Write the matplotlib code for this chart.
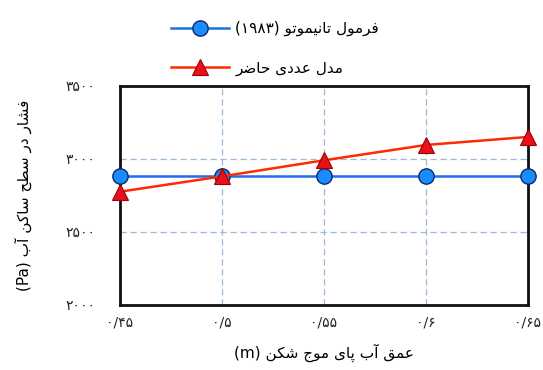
import matplotlib
matplotlib.use("Agg")
import matplotlib.pyplot as plt
from matplotlib.ticker import FixedLocator

# ---------------- data ----------------
depth = [0.45, 0.50, 0.55, 0.60, 0.65]
tanimoto = [2885, 2885, 2885, 2885, 2885]
numerical = [2775, 2880, 2990, 3095, 3150]
x_tick_labels = ["۰/۴۵", "۰/۵", "۰/۵۵", "۰/۶", "۰/۶۵"]
y_ticks = [2000, 2500, 3000, 3500]
y_tick_labels = ["۲۰۰۰", "۲۵۰۰", "۳۰۰۰", "۳۵۰۰"]
label_tanimoto = "فرمول تانیموتو (۱۹۸۳)"
label_numerical = "مدل عددی حاضر"
x_label = "عمق آب پای موج شکن (m)"
y_label = "فشار در سطح ساکن آب (Pa)"

# ------------- minimal Persian shaping + visual ordering -------------
FORMS = {  # iso, fin, ini, med  (None -> right-joining only)
    'ا': ('\uFE8D', '\uFE8E', None, None),
    'آ': ('\uFE81', '\uFE82', None, None),
    'ب': ('\uFE8F', '\uFE90', '\uFE91', '\uFE92'),
    'پ': ('\uFB56', '\uFB57', '\uFB58', '\uFB59'),
    'ت': ('\uFE95', '\uFE96', '\uFE97', '\uFE98'),
    'ج': ('\uFE9D', '\uFE9E', '\uFE9F', '\uFEA0'),
    'ح': ('\uFEA1', '\uFEA2', '\uFEA3', '\uFEA4'),
    'د': ('\uFEA9', '\uFEAA', None, None),
    'ر': ('\uFEAD', '\uFEAE', None, None),
    'س': ('\uFEB1', '\uFEB2', '\uFEB3', '\uFEB4'),
    'ش': ('\uFEB5', '\uFEB6', '\uFEB7', '\uFEB8'),
    'ض': ('\uFEBD', '\uFEBE', '\uFEBF', '\uFEC0'),
    'ط': ('\uFEC1', '\uFEC2', '\uFEC3', '\uFEC4'),
    'ع': ('\uFEC9', '\uFECA', '\uFECB', '\uFECC'),
    'ف': ('\uFED1', '\uFED2', '\uFED3', '\uFED4'),
    'ق': ('\uFED5', '\uFED6', '\uFED7', '\uFED8'),
    'ک': ('\uFB8E', '\uFB8F', '\uFB90', '\uFB91'),
    'ل': ('\uFEDD', '\uFEDE', '\uFEDF', '\uFEE0'),
    'م': ('\uFEE1', '\uFEE2', '\uFEE3', '\uFEE4'),
    'ن': ('\uFEE5', '\uFEE6', '\uFEE7', '\uFEE8'),
    'و': ('\uFEED', '\uFEEE', None, None),
    'ی': ('\uFBFC', '\uFBFD', '\uFBFE', '\uFBFF'),
}


def shape(text):
    out = []
    n = len(text)
    for i, ch in enumerate(text):
        if ch not in FORMS:
            out.append(ch)
            continue
        iso, fin, ini, med = FORMS[ch]
        prev = text[i - 1] if i > 0 else None
        nxt = text[i + 1] if i + 1 < n else None
        join_prev = prev in FORMS and FORMS[prev][2] is not None
        join_next = nxt in FORMS and ini is not None
        if join_prev and join_next:
            out.append(med)
        elif join_prev:
            out.append(fin)
        elif join_next:
            out.append(ini)
        else:
            out.append(iso)
    return ''.join(out)


def is_ltr(ch):
    return ch.isascii() and ch.isalnum() or ('\u06F0' <= ch <= '\u06F9') or ch == '/'


def visual(text):
    s = shape(text)[::-1]
    res, run = [], []
    for ch in s:
        if is_ltr(ch):
            run.append(ch)
        else:
            if run:
                res.append(''.join(run[::-1]))
                run = []
            res.append({'(': ')', ')': '('}.get(ch, ch))
    if run:
        res.append(''.join(run[::-1]))
    return ''.join(res)


plt.rcParams['font.family'] = ['DejaVu Sans']

fig = plt.figure(figsize=(5.43, 3.70), dpi=100)
ax = fig.add_axes([0.221, 0.176, 0.751, 0.592])

ln1, = ax.plot(depth, tanimoto, color='#1f6fe8', lw=1.8, marker='o', ms=11,
               markerfacecolor='#1a8cff', markeredgecolor='#0a2a66', mew=1.0,
               clip_on=False, zorder=3)
ln2, = ax.plot(depth, numerical, color='#ff2a00', lw=1.8, marker='^', ms=11,
               markerfacecolor='#e8101a', markeredgecolor='#a00000', mew=0.8,
               clip_on=False, zorder=4)

ax.set_xlim(0.45, 0.65)
ax.set_ylim(2000, 3500)
ax.xaxis.set_major_locator(FixedLocator(depth))
ax.set_xticklabels(x_tick_labels)
ax.yaxis.set_major_locator(FixedLocator(y_ticks))
ax.set_yticklabels(y_tick_labels)
ax.tick_params(axis='both', length=0, labelsize=10, colors='#222222')
ax.tick_params(axis='y', pad=18)
ax.tick_params(axis='x', pad=8)
ax.grid(True, color='#9ab8d8', linestyle=(0, (5, 3)), lw=0.9)
for sp in ax.spines.values():
    sp.set_linewidth(2.0)
    sp.set_color('#111111')

ax.set_xlabel(visual(x_label), fontsize=11, labelpad=10)
ax.set_ylabel(visual(y_label), fontsize=11, labelpad=24)

fig.legend([ln1, ln2], [visual(label_tanimoto), visual(label_numerical)],
           loc='upper left', bbox_to_anchor=(0.29, 0.98), frameon=False,
           handlelength=3.8, labelspacing=1.6, fontsize=11, handletextpad=0.4)

fig.savefig('out.png', dpi=100)
